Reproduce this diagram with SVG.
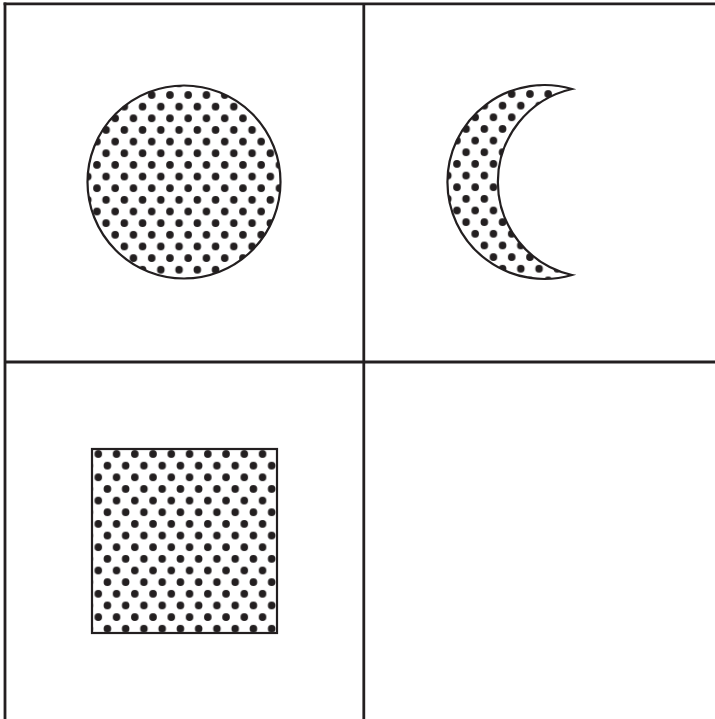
<svg xmlns="http://www.w3.org/2000/svg" xmlns:xlink="http://www.w3.org/1999/xlink" width="715" height="719" viewBox="0 0 715 719">
<style>
.grid{stroke:#231f20;stroke-width:2.8;fill:none}
.shape{stroke:#231f20;stroke-width:2.2}
.dot{fill:#231f20}
</style>
<defs>
<pattern id="dotsBase" patternUnits="userSpaceOnUse" width="18.25" height="23.3">
<circle class="dot" cx="0" cy="0" r="3.8"/>
<circle class="dot" cx="18.25" cy="0" r="3.8"/>
<circle class="dot" cx="0" cy="23.3" r="3.8"/>
<circle class="dot" cx="18.25" cy="23.3" r="3.8"/>
<circle class="dot" cx="9.125" cy="11.65" r="3.8"/>
</pattern>
<pattern id="dotsCircle" href="#dotsBase" xlink:href="#dotsBase" x="151.7" y="95"/>
<pattern id="dotsMoon" href="#dotsBase" xlink:href="#dotsBase" x="511.7" y="94"/>
<pattern id="dotsSquare" href="#dotsBase" xlink:href="#dotsBase" x="98.3" y="454"/>
</defs>
<g id="grid">
<line class="grid" x1="5" y1="2.4" x2="5" y2="719"/>
<line class="grid" x1="3.6" y1="3.8" x2="715" y2="3.8"/>
<line class="grid" x1="363.8" y1="3.8" x2="363.8" y2="719"/>
<line class="grid" x1="5" y1="362" x2="715" y2="362"/>
</g>
<g id="circle">
<circle class="shape" cx="184" cy="182" r="96.5" fill="url(#dotsCircle)"/>
</g>
<g id="crescent">
<path class="shape" fill="url(#dotsMoon)" d="M572 89 A97 97 0 1 0 572 275 A95.4 95.4 0 0 1 572 89 Z"/>
</g>
<g id="square">
<rect class="shape" x="92" y="449" width="185" height="184" fill="url(#dotsSquare)"/>
</g>
</svg>
